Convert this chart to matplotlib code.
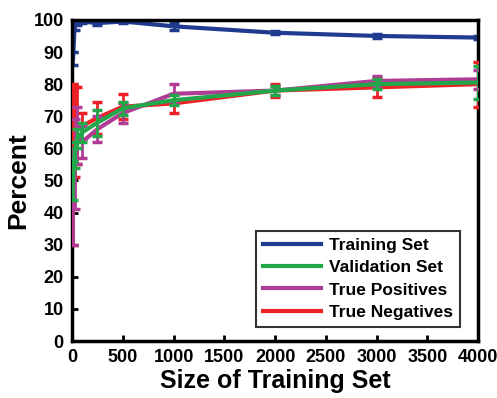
import matplotlib
matplotlib.use("Agg")
import matplotlib.pyplot as plt
import numpy as np

plt.rcParams['font.family'] = ['Liberation Sans', 'DejaVu Sans']
plt.rcParams['font.weight'] = 'bold'

sizes = [10, 25, 50, 100, 250, 500, 1000, 2000, 3000, 4000]

train = [88, 98, 99, 99.5, 99, 99.5, 98, 96, 95, 94.5]
train_err = [2, 1, 0.5, 0.5, 0.5, 0.5, 1, 0.5, 0.5, 0.5]

valid = [50, 58, 63, 65, 68, 72.5, 75, 78, 80, 80.5]
valid_err = [6, 4, 3, 3, 4, 2, 1.5, 1.5, 1.5, 5]

tpos = [45, 55, 64, 62, 66, 71, 77, 78, 81, 81.5]
tpos_err = [15, 14, 9, 5, 4, 3, 3, 1.5, 1.5, 3]

tneg = [55, 65, 67, 67, 69.5, 73, 74, 78, 79, 80]
tneg_err = [25, 14, 12, 4, 5, 4, 3, 2, 3, 7]

series = [
    ("Training Set", train, train_err, "#1f3b8f"),
    ("Validation Set", valid, valid_err, "#22a84a"),
    ("True Positives", tpos, tpos_err, "#b03c96"),
    ("True Negatives", tneg, tneg_err, "#ee2226"),
]

fig = plt.figure(figsize=(4.97, 3.98), dpi=100)
ax = fig.add_axes([0.145, 0.143, 0.817, 0.807])

# draw order: training, negatives, positives, validation on top
order = [0, 3, 2, 1]
for i in order:
    name, y, e, c = series[i]
    ax.errorbar(sizes, y, yerr=e, color=c, lw=3, elinewidth=2,
                capsize=3.5, capthick=2.5, zorder=2 + order.index(i))

handles = [plt.Line2D([], [], color=c, lw=3) for _, _, _, c in series]
labels = [s[0] for s in series]
leg = ax.legend(handles, labels, loc='lower right', fontsize=12.5,
                frameon=True, fancybox=False, edgecolor='black',
                handlelength=3.3, handletextpad=0.5, borderpad=0.4,
                labelspacing=0.42, borderaxespad=0,
                bbox_to_anchor=(0.956, 0.044))
leg.get_frame().set_linewidth(1.5)

ax.set_xlim(0, 4000)
ax.set_ylim(0, 100)
ax.set_xticks(np.arange(0, 4001, 500))
ax.set_yticks(np.arange(0, 101, 10))
ax.tick_params(direction='in', length=4, width=2, labelsize=13, pad=6)
for s in ax.spines.values():
    s.set_linewidth(2.5)
for lab in ax.get_xticklabels() + ax.get_yticklabels():
    lab.set_fontweight('bold')

ax.set_xlabel("Size of Training Set", fontsize=18, fontweight='bold', labelpad=2)
ax.set_ylabel("Percent", fontsize=19, fontweight='bold', labelpad=2)

fig.savefig("out.png", dpi=100)
